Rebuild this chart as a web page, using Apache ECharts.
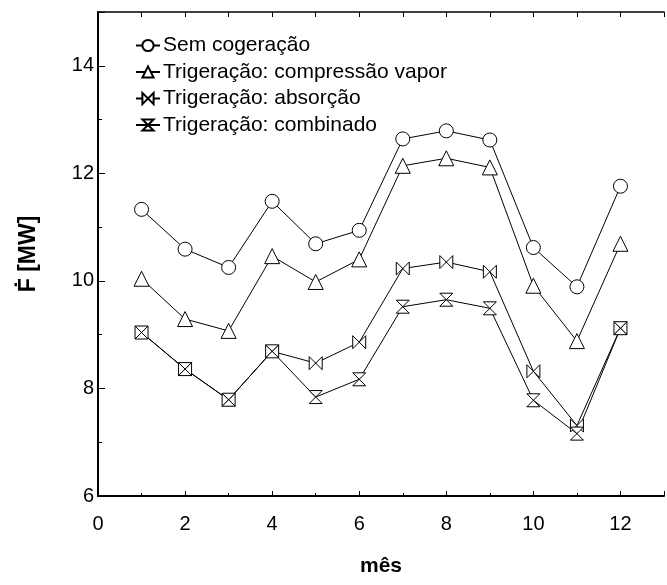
<!DOCTYPE html>
<html>
<head>
<meta charset="utf-8">
<script src="https://cdn.jsdelivr.net/npm/echarts@6/dist/echarts.min.js"></script>
<style>
  html, body { margin: 0; padding: 0; background: #fff; }
  #main { width: 667px; height: 585px; }
</style>
</head>
<body>
<div id="main"></div>
<script>
// data
const months = [1, 2, 3, 4, 5, 6, 7, 8, 9, 10, 11, 12];
const semCogeracao = [11.33, 10.59, 10.25, 11.48, 10.69, 10.94, 12.64, 12.79, 12.62, 10.62, 9.89, 11.76];
const compressaoVapor = [10.04, 9.29, 9.07, 10.46, 9.98, 10.40, 12.14, 12.28, 12.11, 9.91, 8.88, 10.69];
const absorcao = [9.04, 8.36, 7.79, 8.69, 8.47, 8.86, 10.23, 10.35, 10.17, 8.32, 7.31, 9.12];
const combinado = [9.04, 8.36, 7.79, 8.69, 7.84, 8.17, 9.52, 9.65, 9.49, 7.78, 7.16, 9.12];
const seriesNames = [
  'Sem cogeração',
  'Trigeração: compressão vapor',
  'Trigeração: absorção',
  'Trigeração: combinado'
];

const font = 'Liberation Sans, Arial, sans-serif';
const pair = (ys) => months.map((m, i) => [m, ys[i]]);

const BOWTIE = 'path://M0,0 L10,10 L10,0 L0,10 Z';
const HOURGLASS = 'path://M0,0 L10,0 L0,10 L10,10 Z';

const mkSeries = (name, ys, symbol, size) => ({
  name: name,
  type: 'line',
  data: pair(ys),
  symbol: symbol,
  symbolSize: size,
  showAllSymbol: true,
  lineStyle: { color: '#000', width: 1 },
  itemStyle: { color: '#fff', borderColor: '#000', borderWidth: 1 },
  emphasis: { disabled: true },
  animation: false
});

const chart = echarts.init(document.getElementById('main'));

const option = {
  backgroundColor: '#fff',
  textStyle: { fontFamily: font },
  grid: { left: 98, right: -11, top: 12, bottom: 89 },
  legend: {
    orient: 'vertical',
    left: 130,
    top: 30,
    itemWidth: 24,
    itemHeight: 14,
    itemGap: 5.5,
    textStyle: { fontSize: 21, color: '#000', fontFamily: font, padding: [0, 0, 0, -2] },
    data: seriesNames
  },
  xAxis: [{
    type: 'value',
    min: 0,
    max: 13,
    interval: 2,
    name: 'mês',
    nameLocation: 'middle',
    nameGap: 60,
    nameTextStyle: { fontSize: 21, fontWeight: 'bold', color: '#000', fontFamily: font },
    axisLine: { show: true, onZero: false, lineStyle: { color: '#000', width: 2 } },
    axisTick: { inside: true, length: 5, lineStyle: { color: '#000', width: 1 } },
    minorTick: { show: true, splitNumber: 2, length: 3, lineStyle: { color: '#000', width: 1 } },
    axisLabel: {
      fontSize: 20, color: '#000', margin: 18, fontFamily: font,
      formatter: (v) => (v % 2 === 0 ? String(v) : '')
    },
    splitLine: { show: false }
  }, {
    type: 'value',
    position: 'top',
    min: 0,
    max: 13,
    interval: 2,
    axisLine: { show: true, onZero: false, lineStyle: { color: '#000', width: 1.5 } },
    axisTick: { inside: true, length: 5, lineStyle: { color: '#000', width: 1 } },
    minorTick: { show: true, splitNumber: 2, length: 5, lineStyle: { color: '#000', width: 1 } },
    axisLabel: { show: false },
    splitLine: { show: false }
  }],
  yAxis: {
    type: 'value',
    min: 6,
    max: 15,
    interval: 2,
    name: 'Ḟ [MW]',
    nameLocation: 'middle',
    nameGap: 58,
    nameTextStyle: { fontSize: 23, fontWeight: 'bold', color: '#000', fontFamily: font },
    axisLine: { show: true, onZero: false, lineStyle: { color: '#000', width: 2 } },
    axisTick: { inside: true, length: 7, lineStyle: { color: '#000', width: 1 } },
    minorTick: { show: true, splitNumber: 2, length: 4, lineStyle: { color: '#000', width: 1 } },
    axisLabel: {
      fontSize: 20, color: '#000', margin: 4, fontFamily: font,
      formatter: (v) => (v % 2 === 0 ? String(v) : '')
    },
    splitLine: { show: false }
  },
  series: [
    mkSeries(seriesNames[0], semCogeracao, 'circle', 14),
    mkSeries(seriesNames[1], compressaoVapor, 'triangle', 15),
    mkSeries(seriesNames[2], absorcao, BOWTIE, 13),
    mkSeries(seriesNames[3], combinado, HOURGLASS, 13)
  ]
};

chart.setOption(option);
</script>
</body>
</html>
